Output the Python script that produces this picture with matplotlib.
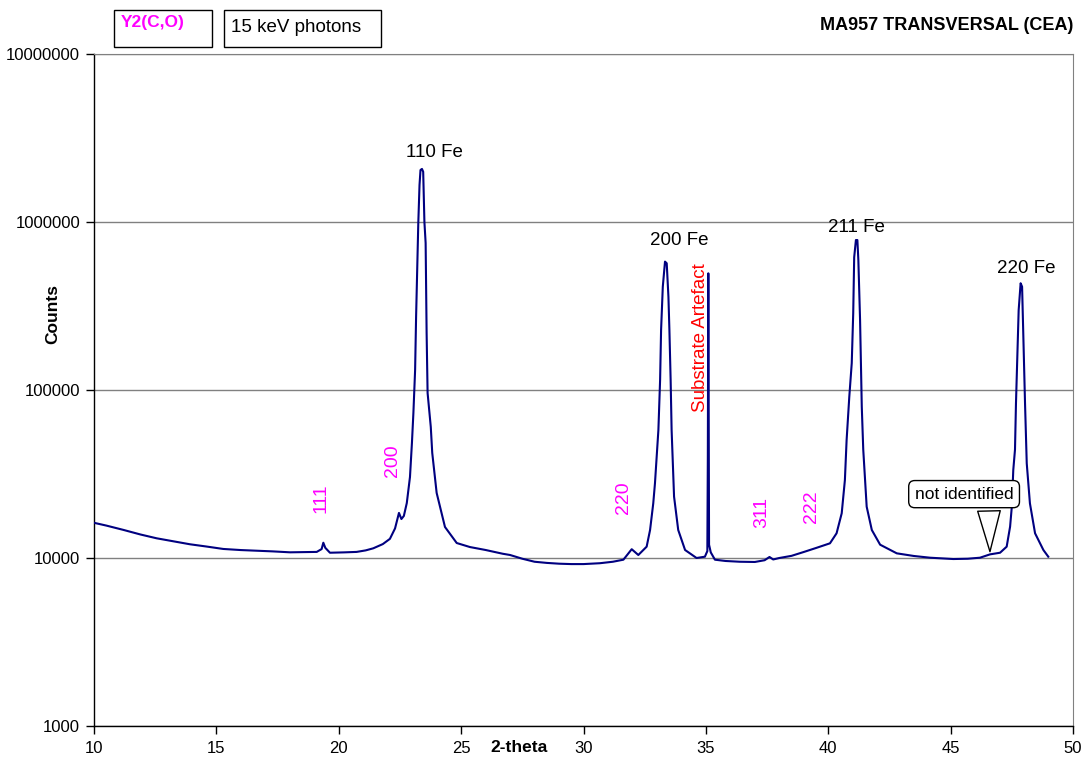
import matplotlib
matplotlib.use("Agg")
import matplotlib.pyplot as plt
from matplotlib.patches import Rectangle
from matplotlib.ticker import NullLocator, FixedLocator, FixedFormatter

plt.rcParams['font.family'] = ['Liberation Sans', 'DejaVu Sans']

# ---- data ----
two_theta = [
    10.0, 10.5, 11.2, 11.9, 12.56, 13.2, 13.92, 14.6, 15.28, 16.0, 16.65, 17.3,
    18.01, 18.6, 19.1, 19.3, 19.37, 19.45, 19.64, 20.2, 20.73, 21.1, 21.41, 21.8,
    22.09, 22.3, 22.46, 22.56, 22.66, 22.78, 22.91, 22.99, 23.05, 23.12, 23.16,
    23.25, 23.30, 23.34, 23.40, 23.45, 23.50, 23.55, 23.59, 23.63, 23.76, 23.82,
    24.00, 24.34, 24.82, 25.36, 26.0, 26.7, 27.0, 27.5, 28.0, 28.5, 29.0, 29.5,
    30.0, 30.67, 31.2, 31.63, 31.97, 32.24, 32.58, 32.72, 32.85, 32.92, 33.06,
    33.13, 33.17, 33.24, 33.33, 33.40, 33.47, 33.51, 33.56, 33.60, 33.70, 33.87,
    34.15, 34.62, 34.96, 35.06, 35.08, 35.10, 35.13, 35.2, 35.37, 35.8, 36.39,
    37.0, 37.4, 37.6, 37.75, 38.0, 38.5, 39.0, 39.5, 40.07, 40.34, 40.55, 40.68,
    40.75, 40.86, 40.96, 41.02, 41.06, 41.13, 41.19, 41.23, 41.30, 41.37, 41.43,
    41.57, 41.78, 42.12, 42.8, 43.5, 44.16, 45.11, 45.7, 46.20, 46.61, 47.02,
    47.29, 47.43, 47.50, 47.56, 47.63, 47.67, 47.73, 47.78, 47.86, 47.92, 47.97,
    48.04, 48.11, 48.24, 48.45, 48.79, 48.99,
]
counts = [
    16200, 15600, 14700, 13800, 13100, 12600, 12070, 11700, 11320, 11150, 11050, 10950,
    10810, 10850, 10870, 11300, 12330, 11500, 10750, 10800, 10870, 11100, 11420, 12100,
    13000, 15000, 18550, 17060, 17800, 21230, 30340, 48400, 73000, 131600, 272000,
    986000, 1660000, 2040000, 2070000, 1990000, 1000000, 750000, 219000, 96000, 60300, 42200,
    24400, 15300, 12280, 11620, 11160, 10600, 10420, 9900, 9500, 9350, 9250, 9200,
    9200, 9310, 9500, 9770, 11280, 10420, 11680, 14680, 21150, 27850, 57800,
    115000, 227500, 412000, 581000, 568000, 359000, 227500, 115000, 57800, 23200, 14680,
    11160, 10000, 10180, 11000, 40000, 495000, 12000, 10800, 9770, 9600, 9500,
    9470, 9700, 10140, 9800, 10000, 10300, 10860, 11470, 12230, 14030, 18460, 29100,
    50300, 91200, 144600, 286000, 617000, 781000, 781000, 594000, 261000, 79400, 44200,
    20200, 14680, 12000, 10660, 10280, 10040, 9860, 9900, 10040, 10510, 10750,
    11680, 15370, 20200, 33400, 44200, 83300, 166000, 299000, 432000, 412000, 207000,
    83300, 36600, 21150, 14030, 11160, 10180,
]

x_ticks = [10, 15, 20, 25, 30, 35, 40, 45, 50]
y_ticks = [1000, 10000, 100000, 1000000, 10000000]
y_tick_labels = ['1000', '10000', '100000', '1000000', '10000000']

fe_labels = ['110 Fe', '200 Fe', '211 Fe', '220 Fe']
fe_pos = [(23.89, 2.61e6), (33.90, 7.8e5), (41.17, 9.3e5), (48.08, 5.3e5)]
y2_labels = ['111', '200', '220', '311', '222']
y2_pos = [(19.27, 22800), (22.18, 37800), (31.65, 22800), (37.29, 18800), (39.30, 20100)]

W, H = 1087, 760
fig = plt.figure(figsize=(W / 100, H / 100), dpi=100)
L, R, T, B = 94, 1073, 54, 726
ax = fig.add_axes([L / W, 1 - B / H, (R - L) / W, (B - T) / H])

ax.plot(two_theta, counts, color='#000080', lw=1.5, zorder=3)

ax.set_yscale('log')
ax.set_xlim(10, 50)
ax.set_ylim(1000, 1e7)
ax.xaxis.set_major_locator(FixedLocator(x_ticks))
ax.yaxis.set_major_locator(FixedLocator(y_ticks))
ax.yaxis.set_major_formatter(FixedFormatter(y_tick_labels))
ax.yaxis.set_minor_locator(NullLocator())
ax.xaxis.set_minor_locator(NullLocator())

ax.grid(axis='y', which='major', color='#808080', lw=1)
ax.set_axisbelow(True)
for s in ['top', 'right']:
    ax.spines[s].set_color('#808080')
for s in ['left', 'bottom']:
    ax.spines[s].set_color('black')
    ax.spines[s].set_linewidth(1)
ax.tick_params(direction='out', length=6, width=1, labelsize=12, colors='black')
ax.tick_params(axis='x', pad=5)
ax.tick_params(axis='y', pad=4)

# peak labels
for lab, (x, y) in zip(fe_labels, fe_pos):
    ax.text(x, y, lab, ha='center', va='center', fontsize=13.5, color='black')
for lab, (x, y) in zip(y2_labels, y2_pos):
    ax.text(x, y, lab, ha='center', va='center', fontsize=14, color='#FF00FF', rotation=90)
ax.text(34.80, 2.04e5, 'Substrate Artefact', ha='center', va='center', fontsize=13.5,
        color='#FF0000', rotation=90)

ax.annotate('not identified', xy=(46.61, 10500), xytext=(45.55, 24000),
            ha='center', va='center', fontsize=12.5, zorder=5,
            bbox=dict(boxstyle='round,pad=0.35', fc='white', ec='black', lw=1),
            arrowprops=dict(arrowstyle='wedge,tail_width=1.3,shrink_factor=0.5', fc='white',
                            ec='black', lw=1, relpos=(0.75, 0.0)))

# axis titles
fig.text(53 / W, 1 - 314 / H, 'Counts', rotation=90, ha='center', va='center',
         fontsize=12.5, fontweight='bold')
fig.text(519 / W, 1 - 747 / H, '2-theta', ha='center', va='center',
         fontsize=12.5, fontweight='bold')

# header boxes and title
fig.patches.append(Rectangle((114 / W, 1 - 47 / H), 98 / W, 37 / H, transform=fig.transFigure,
                             fill=False, ec='black', lw=1))
fig.patches.append(Rectangle((224 / W, 1 - 47 / H), 157 / W, 37 / H, transform=fig.transFigure,
                             fill=False, ec='black', lw=1))
fig.text(121 / W, 1 - 22 / H, 'Y2(C,O)', ha='left', va='center', fontsize=12.5,
         fontweight='bold', color='#FF00FF')
fig.text(231 / W, 1 - 28 / H, '15 keV photons', ha='left', va='center', fontsize=13.5,
         color='black')
fig.text(1073 / W, 1 - 25 / H, 'MA957 TRANSVERSAL (CEA)', ha='right', va='center',
         fontsize=13, fontweight='bold')

fig.savefig('out.png', dpi=100)
